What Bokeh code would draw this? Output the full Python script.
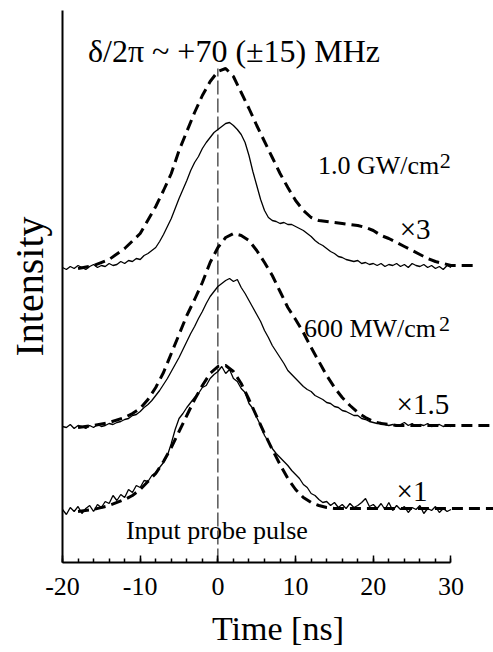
from bokeh.plotting import figure
from bokeh.models import Range1d, FixedTicker
from bokeh.core.properties import value
from bokeh.embed import file_html
from bokeh.resources import INLINE

# ---------------- data ----------------
# time grid of measured traces [ns]
t_meas = [i * 0.5 for i in range(-40, 61)]

# measured output pulses (solid), intensity above each trace's baseline (arb. units)
top_solid = [1, -1, 2, 0, 3, 1, -1, 2, 4, 1, 3, 2, 5, 3, 4, 7, 5, 8, 7, 10, 9, 13, 15, 18, 21,
             27, 34, 42, 50, 60, 70, 79, 88, 98, 106, 112, 120, 126, 131, 136, 139, 142, 145, 146,
             143, 139, 134, 126, 113, 97, 83, 69, 58, 51, 48, 47, 45, 46, 44, 44, 42, 40, 38, 35,
             32, 28, 25, 23, 20, 17, 15, 12, 11, 9, 8, 7, 8, 5, 6, 4, 5, 3, 5, 2, 4, 3, 5, 2, 4,
             1, 5, 3, 2, 4, 1, 3, 0, 2, -1, 3, 1]
mid_solid = [1, 0, 3, -1, 2, 1, -1, 2, 0, 3, 1, 2, 4, 3, 5, 6, 8, 9, 12, 13, 16, 20, 23, 27, 32,
             37, 43, 49, 56, 63, 70, 78, 86, 94, 101, 109, 116, 124, 131, 136, 141, 144, 147, 149,
             146, 148, 140, 134, 127, 120, 113, 106, 97, 90, 82, 76, 70, 64, 57, 53, 49, 45, 41,
             38, 36, 32, 30, 28, 25, 24, 21, 20, 17, 16, 14, 12, 12, 9, 8, 6, 5, 4, 5, 3, 2, 3, 1,
             3, 5, 2, 4, 1, 3, 2, 4, 1, 2, 3, 1, 2, 1]
bot_solid = [2, -3, 4, 0, 5, -2, 3, 6, 0, 7, 4, 10, 8, 16, 11, 17, 14, 22, 19, 26, 24, 31, 30, 36,
             39, 44, 49, 56, 68, 82, 93, 98, 104, 109, 114, 118, 124, 126, 133, 137, 140, 145, 138,
             142, 133, 130, 123, 119, 108, 103, 94, 86, 76, 70, 63, 58, 54, 50, 46, 41, 37, 33, 27,
             24, 18, 16, 12, 9, 10, 6, 9, 4, 7, 3, 8, 4, 6, 9, 13, 5, 7, 3, 8, 2, 9, 1, 6, 2, 5,
             -1, 4, 2, 6, -2, 3, 1, 5, -1, 3, 0, 2]

# calculated pulses (dashed)
t_top_calc = [-18, -16, -14, -12, -10, -8, -7, -6, -5, -4, -3, -2, -1, 0, 1, 2, 3, 4, 5, 6, 7, 8,
              9, 10, 11, 12, 13, 14, 15, 16, 17, 18, 19, 20, 21, 22, 23, 24, 25, 26, 27, 28, 29,
              30, 31, 32, 33]
top_calc = [0, 3, 9, 20, 35, 62, 78, 95, 118, 137, 156, 173, 187, 197, 200, 192, 176, 160, 143,
            127, 111, 95, 81, 68, 58, 51, 48, 47, 46, 45, 44, 43, 41, 38, 33, 30, 26, 22, 18, 14,
            10, 7, 5, 3, 3, 3, 3]
t_calc = [-18, -16, -14, -12, -11, -10, -9, -8, -7, -6, -5, -4, -3, -2, -1, 0, 1, 2, 3, 4, 5, 6,
          7, 8, 9, 10, 11, 12, 13, 14, 15, 16, 17, 18, 19, 20, 21, 22, 23, 24, 25, 26, 27, 28,
          29, 30, 31, 32, 33, 34, 35, 36]
mid_calc = [0, 2, 5, 10, 14, 19, 28, 40, 55, 74, 93, 112, 128, 145, 165, 180, 190, 194, 192, 187,
            177, 165, 152, 136, 120, 108, 95, 80, 66, 52, 40, 30, 22, 15, 10, 6, 4, 3, 2, 2, 2,
            2, 2, 2, 2, 2, 2, 2, 2, 2, 2, 2]
bot_calc = [0, 2, 6, 12, 16, 22, 30, 38, 50, 64, 80, 96, 112, 126, 138, 145, 146, 140, 128, 112,
            95, 78, 62, 47, 33, 22, 14, 9, 6, 4, 3, 3, 3, 3, 3, 3, 3, 3, 3, 3, 3, 3, 3, 3, 3, 3,
            3, 3, 3, 3, 3, 3]

# vertical baselines of the three stacked traces
offset_top = 294
offset_mid = 135
offset_bot = 51

x_ticks = [-20, -10, 0, 10, 20, 30]
x_minor = [-20, -18, -16, -14, -12, -10, -8, -6, -4, -2, 0, 2, 4, 6, 8, 10, 12, 14, 16, 18, 20,
           22, 24, 26, 28, 30]
x_tick_labels = ["-20", "-10", "0", "10", "20", "30"]

title_text = "δ/2π ~ +70 (±15) MHz"
label_top = "1.0 GW/cm"
label_mid = "600 MW/cm"
factor_top = "×3"
factor_mid = "×1.5"
factor_bot = "×1"
probe_text = "Input probe pulse"

# ---------------- figure ----------------
FONT = "Liberation Serif"

p = figure(width=493, height=652, output_backend="svg", toolbar_location=None,
           x_range=Range1d(-20, 35.47), y_range=Range1d(0, 552),
           min_border_left=62, min_border_right=0, min_border_top=10, min_border_bottom=90)
p.outline_line_color = None
p.xgrid.visible = False
p.ygrid.visible = False
p.background_fill_color = "white"
p.border_fill_color = "white"

# axes
xa = p.xaxis[0]
xa.bounds = (-20, 30)
xa.ticker = FixedTicker(ticks=x_ticks, minor_ticks=x_minor)
xa.major_label_overrides = {v: s for v, s in zip(x_ticks, x_tick_labels)}
xa.axis_line_width = 2
xa.axis_line_color = "black"
xa.major_tick_in = 7
xa.major_tick_out = 0
xa.minor_tick_in = 4
xa.minor_tick_out = 0
xa.major_tick_line_width = 1.5
xa.minor_tick_line_width = 1.5
xa.major_label_text_font = FONT
xa.major_label_text_font_size = "26px"
xa.major_label_text_color = "black"
xa.major_label_standoff = 15
xa.axis_label = "Time [ns]"
xa.axis_label_text_font = FONT
xa.axis_label_text_font_size = "34px"
xa.axis_label_text_font_style = "normal"
xa.axis_label_text_color = "black"
xa.axis_label_standoff = 12

ya = p.yaxis[0]
ya.ticker = FixedTicker(ticks=[])
ya.major_tick_in = 0
ya.major_tick_out = 0
ya.minor_tick_in = 0
ya.minor_tick_out = 0
ya.axis_line_width = 2
ya.axis_line_color = "black"
ya.axis_label = "Intensity"
ya.axis_label_text_font = FONT
ya.axis_label_text_font_size = "40px"
ya.axis_label_text_font_style = "normal"
ya.axis_label_text_color = "black"
ya.axis_label_standoff = 11

# reference line at t = 0
ref_top = offset_top + max(top_calc)
p.segment(x0=[0], y0=[0], x1=[0], y1=[ref_top], line_color="black", line_width=1,
          line_dash="14 4")

# traces
def shift(vals, off):
    return [v + off for v in vals]

DASH = dict(line_color="black", line_width=3, line_dash="11 6")
SOLID = dict(line_color="black", line_width=1.3)

p.line(t_top_calc, shift(top_calc, offset_top), **DASH)
p.line(t_meas, shift(top_solid, offset_top), **SOLID)
p.line(t_calc, shift(mid_calc, offset_mid), **DASH)
p.line(t_meas, shift(mid_solid, offset_mid), **SOLID)
p.line(t_calc, shift(bot_calc, offset_bot), **DASH)
p.line(t_meas, shift(bot_solid, offset_bot), **SOLID)

# annotations
def txt(x, y, s, size, align="left"):
    p.text(x=[x], y=[y], text=[s], text_font=value(FONT), text_font_size=size,
           text_color="black", text_align=align, text_baseline="alphabetic")

txt(-16.73, 512, title_text, "32px")
txt(12.87, 397, label_top, "26px")
txt(28.55, 402, "2", "22px")
txt(23.4, 334, factor_top, "29px")
txt(11.07, 234, label_mid, "26px")
txt(28.45, 239, "2", "22px")
txt(23.0, 159, factor_mid, "29px")
txt(23.0, 72, factor_bot, "29px")
txt(-11.84, 32, probe_text, "26px")

open("out.html", "w").write(file_html(p, INLINE))
